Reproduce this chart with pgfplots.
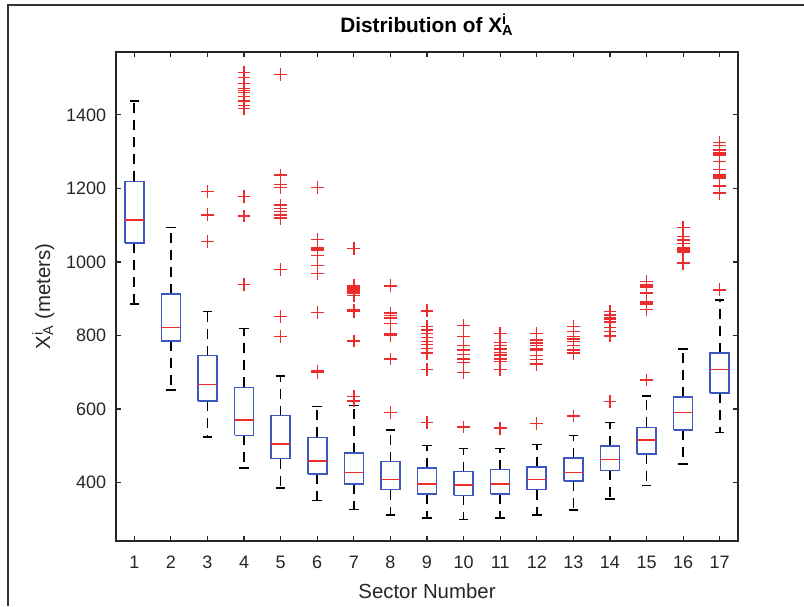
\documentclass[border=0pt]{standalone}
\usepackage{pgfplots}
\pgfplotsset{compat=1.18}
\usepackage{fontspec}
\setmainfont{Liberation Sans}
\definecolor{boxblue}{RGB}{60,88,192}
\definecolor{medred}{RGB}{235,45,45}
\definecolor{axgray}{RGB}{38,38,38}
\newcommand{\XAi}{X\rlap{\textsuperscript{i}}\textsubscript{A}}
% #1 position, #2 lower whisker, #3 lower quartile, #4 median, #5 upper quartile, #6 upper whisker
\newcommand{\bx}[6]{%
  \pgfmathsetmacro\xa{#1-0.26}\pgfmathsetmacro\xb{#1+0.26}%
  \pgfmathsetmacro\xc{#1-0.13}\pgfmathsetmacro\xd{#1+0.13}%
  \addplot[black, line width=0.8pt, dash pattern=on 5pt off 3.5pt] coordinates {(#1,#3) (#1,#2)};
  \addplot[black, line width=0.8pt, dash pattern=on 5pt off 3.5pt] coordinates {(#1,#5) (#1,#6)};
  \addplot[black, line width=0.8pt] coordinates {(\xc,#2) (\xd,#2)};
  \addplot[black, line width=0.8pt] coordinates {(\xc,#6) (\xd,#6)};
  \addplot[boxblue, line width=0.8pt, line join=miter] coordinates {(\xa,#3) (\xb,#3) (\xb,#5) (\xa,#5) (\xa,#3)};
  \addplot[medred, line width=0.8pt] coordinates {(\xa,#4) (\xb,#4)};
}
\begin{document}
\begin{tikzpicture}
\path[use as bounding box] (-58pt,-32.5pt) rectangle (344pt,270.5pt);
\begin{axis}[
  at={(0,0)}, anchor=south west,
  scale only axis, width=311pt, height=244.5pt,
  xmin=0.5, xmax=17.5, ymin=241, ymax=1571,
  xtick={1,...,17}, ytick={400,600,...,1400},
  tick align=inside, major tick length=2.5pt,
  xtick pos=both, ytick pos=both,
  axis line style={draw=axgray, line width=0.6pt},
  every tick/.style={draw=axgray, line width=0.6pt},
  tick label style={font=\fontsize{9}{10}\selectfont, text=axgray},
  /pgf/number format/assume math mode=true,
  /pgf/number format/set thousands separator={},
  xticklabel style={anchor=base, yshift=-13.5pt},
  yticklabel style={anchor=east, inner sep=0pt, xshift=-4.7pt},
  every axis title shift=0pt,
  title={Distribution of \XAi},
  title style={at={(axis description cs:0.5,1.0409)}, anchor=base, font=\fontsize{10.4}{12}\selectfont\bfseries},
  xlabel={Sector Number},
  xlabel style={at={(axis description cs:0.5,-0.1166)}, anchor=base, font=\fontsize{10.2}{12}\selectfont, text=axgray},
  ylabel={\XAi\ (meters)},
  ylabel style={at={(axis description cs:-0.1061,0.5)}, anchor=base, font=\fontsize{10.2}{12}\selectfont, text=axgray},
]
\bx{1}{885}{1051}{1114}{1219}{1438}
\bx{2}{652}{785}{822}{912}{1094}
\bx{3}{524}{621}{667}{745}{865}
\bx{4}{439}{528}{570}{659}{819}
\bx{5}{385}{465}{505}{582}{690}
\bx{6}{351}{424}{459}{523}{607}
\bx{7}{327}{396}{427}{480}{610}
\bx{8}{312}{381}{408}{457}{543}
\bx{9}{303}{369}{396}{439}{501}
\bx{10}{299}{365}{393}{430}{493}
\bx{11}{303}{369}{396}{435}{493}
\bx{12}{312}{381}{408}{442}{504}
\bx{13}{326}{405}{427}{466}{528}
\bx{14}{355}{433}{463}{500}{563}
\bx{15}{392}{478}{516}{550}{636}
\bx{16}{451}{543}{590}{632}{764}
\bx{17}{536}{643}{708}{752}{897}
\addplot[only marks, mark=+, mark size=3.2pt, mark options={draw=medred, line width=0.7pt, solid}] coordinates {
(3,1055) (3,1128) (3,1191)
(4,939) (4,1125) (4,1178) (4,1418) (4,1425) (4,1438) (4,1450) (4,1461) (4,1466) (4,1472) (4,1486) (4,1502) (4,1516)
(5,797) (5,851) (5,980) (5,1119) (5,1128) (5,1137) (5,1146) (5,1155) (5,1202) (5,1210) (5,1236) (5,1510)
(6,700) (6,703) (6,862) (6,969) (6,990) (6,1017) (6,1031) (6,1035) (6,1038) (6,1061) (6,1203)
(7,622) (7,634) (7,785) (7,865) (7,869) (7,908) (7,915) (7,920) (7,924) (7,929) (7,935) (7,1036)
(8,590) (8,736) (8,800) (8,804) (8,832) (8,848) (8,854) (8,861) (8,935)
(9,563) (9,708) (9,752) (9,765) (9,776) (9,784) (9,795) (9,806) (9,815) (9,824) (9,867)
(10,551) (10,699) (10,727) (10,736) (10,749) (10,760) (10,773) (10,797) (10,827)
(11,548) (11,707) (11,729) (11,736) (11,747) (11,754) (11,763) (11,772) (11,781) (11,806)
(12,560) (12,722) (12,734) (12,745) (12,760) (12,765) (12,773) (12,780) (12,788) (12,806)
(13,581) (13,752) (13,761) (13,772) (13,784) (13,790) (13,797) (13,811) (13,824)
(14,620) (14,799) (14,811) (14,822) (14,837) (14,843) (14,847) (14,856) (14,865)
(15,679) (15,870) (15,886) (15,890) (15,893) (15,915) (15,931) (15,935) (15,939) (15,947)
(16,995) (16,998) (16,1025) (16,1030) (16,1034) (16,1038) (16,1050) (16,1060) (16,1069) (16,1094)
(17,924) (17,1187) (17,1207) (17,1228) (17,1232) (17,1236) (17,1252) (17,1273) (17,1291) (17,1296) (17,1305) (17,1316) (17,1325)
};
\end{axis}
\draw[line width=1pt, black!80] (-54pt,-32.5pt) -- (-54pt,268pt) -- (344pt,268pt);
\end{tikzpicture}
\end{document}
